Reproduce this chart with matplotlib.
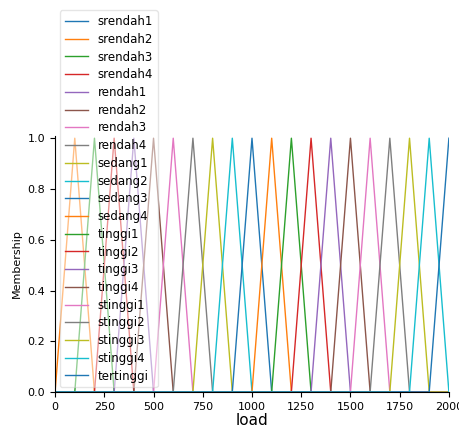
import matplotlib
matplotlib.use("Agg")
import matplotlib.pyplot as plt

# Membership terms for the "load" variable (triangles: left foot, peak, right foot)
terms = ['srendah1', 'srendah2', 'srendah3', 'srendah4',
         'rendah1', 'rendah2', 'rendah3', 'rendah4',
         'sedang1', 'sedang2', 'sedang3', 'sedang4',
         'tinggi1', 'tinggi2', 'tinggi3', 'tinggi4',
         'stinggi1', 'stinggi2', 'stinggi3', 'stinggi4',
         'tertinggi']
left_feet = [0, 0, 100, 200, 300, 400, 500, 600, 700, 800, 900,
             1000, 1100, 1200, 1300, 1400, 1500, 1600, 1700, 1800, 1900]
peaks = [0, 100, 200, 300, 400, 500, 600, 700, 800, 900, 1000,
         1100, 1200, 1300, 1400, 1500, 1600, 1700, 1800, 1900, 2000]
right_feet = [1, 200, 300, 400, 500, 600, 700, 800, 900, 1000, 1100,
              1200, 1300, 1400, 1500, 1600, 1700, 1800, 1900, 2000, 2000]

x_min, x_max = 0, 2000


def tri_vertices(a, b, c):
    # corner points of a triangular term, clipped to the universe
    xs, ys = [], []
    if a > x_min:
        xs.append(x_min)
        ys.append(0)
    if a < b:
        xs.append(a)
        ys.append(0)
    xs.append(b)
    ys.append(1)
    if c > b:
        xs.append(c)
        ys.append(0)
    if c < x_max:
        xs.append(x_max)
        ys.append(0)
    return xs, ys


plt.rcParams['font.size'] = 8

fig = plt.figure(figsize=(4.59, 4.28), dpi=100)
ax = fig.add_axes([0.12, 0.084, 0.858, 0.599])

for name, a, b, c in zip(terms, left_feet, peaks, right_feet):
    xs, ys = tri_vertices(a, b, c)
    ax.plot(xs, ys, label=name, lw=1)

ax.set_ylim([0, 1.01])
ax.set_xlim([x_min, x_max])
ax.legend(framealpha=0.5, loc='lower left', fontsize=8.5, labelspacing=0.4,
          borderaxespad=0.4)

ax.spines['top'].set_visible(False)
ax.spines['right'].set_visible(False)
ax.get_xaxis().tick_bottom()
ax.get_yaxis().tick_left()
ax.tick_params(direction='out')

ax.set_ylabel('Membership')
ax.set_xlabel('load', fontsize=11, labelpad=1)

fig.savefig('out.png', dpi=100)
